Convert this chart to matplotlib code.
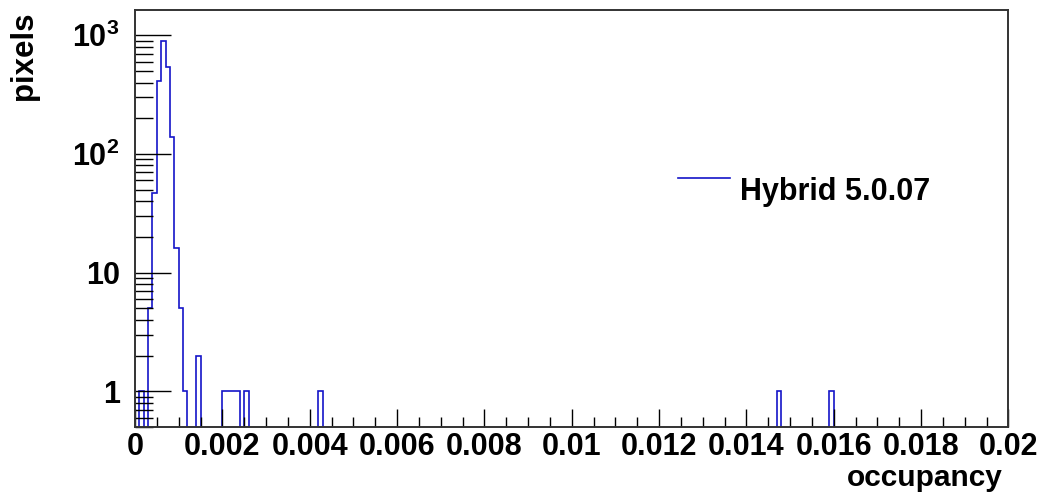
#!/usr/bin/env python3
"""Pixel occupancy histogram (log y), ROOT-like styling."""

import numpy as np
import matplotlib

matplotlib.use("Agg")
import matplotlib.pyplot as plt
from matplotlib.ticker import FixedLocator, FuncFormatter, LogLocator, NullFormatter

# histogram binning: 200 bins from 0 to 0.02
N_BINS = 200
X_MIN = 0.0
X_MAX = 0.02

# non-empty bins (bin index, entries)
filled_bins = [1, 3, 4, 5, 6, 7, 8, 9, 10, 11, 14, 20, 21, 22, 23, 25, 42, 147, 159]
bin_counts = [1, 5, 47, 413, 887, 539, 140, 16, 5, 1, 2, 1, 1, 1, 1, 1, 1, 1, 1]

LEGEND_LABEL = "Hybrid 5.0.07"
X_TITLE = "occupancy"
Y_TITLE = "pixels"

W, H = 1043, 493
LINE_COLOR = "#1414c8"

plt.rcParams.update(
    {
        "font.family": ["Liberation Sans", "DejaVu Sans"],
        "font.weight": "bold",
        "mathtext.fontset": "custom",
        "mathtext.rm": "Liberation Sans:bold",
        "mathtext.bf": "Liberation Sans:bold",
        "mathtext.it": "Liberation Sans:bold",
    }
)


def px_x(x):
    return x / W


def px_y(y):
    return 1 - y / H


edges = np.linspace(X_MIN, X_MAX, N_BINS + 1)
counts = np.zeros(N_BINS)
counts[filled_bins] = bin_counts
# empty bins go below the axis floor, like ROOT does on a log scale
counts = np.where(counts > 0, counts, 1e-3)

fig = plt.figure(figsize=(W / 100, H / 100), dpi=100)
left, right, top, bottom = 135, 1008.5, 9.5, 427
ax = fig.add_axes([px_x(left), px_y(bottom), (right - left) / W, (bottom - top) / H])

ax.stairs(counts, edges, baseline=1e-3, color=LINE_COLOR, linewidth=1.2)

ax.set_yscale("log")
ax.set_xlim(X_MIN, X_MAX)
ax.set_ylim(0.5, 1650)

# x ticks
x_major = np.arange(0, 0.0201, 0.002)
ax.xaxis.set_major_locator(FixedLocator(x_major))
ax.xaxis.set_minor_locator(FixedLocator(np.arange(0, 0.02001, 0.0005)))
ax.xaxis.set_major_formatter(FuncFormatter(lambda v, p: "0" if v == 0 else f"{v:.3f}".rstrip("0")))

# y ticks
ax.yaxis.set_major_locator(FixedLocator([1, 10, 100, 1000]))
ax.yaxis.set_minor_locator(LogLocator(base=10, subs=np.arange(2, 10)))
ax.yaxis.set_minor_formatter(NullFormatter())


def y_fmt(v, pos):
    if v < 100:
        return f"{int(v)}"
    return r"$\mathbf{10^{%d}}$" % int(round(np.log10(v)))


ax.yaxis.set_major_formatter(FuncFormatter(y_fmt))

ax.tick_params(axis="x", which="major", direction="in", length=13, width=1, labelsize=22, pad=3.5, top=False)
ax.tick_params(axis="x", which="minor", direction="in", length=7, width=1, top=False)
ax.tick_params(axis="y", which="major", direction="in", length=26, width=1, labelsize=22, pad=11, right=False)
ax.tick_params(axis="y", which="minor", direction="in", length=13, width=1, right=False)

for s in ax.spines.values():
    s.set_color("#333333")
    s.set_linewidth(1.4)

# legend entry (no frame), drawn the way ROOT placed it
ax.plot([0.622, 0.681], [0.596, 0.596], color=LINE_COLOR, linewidth=1.2, transform=ax.transAxes)
ax.text(0.693, 0.544, LEGEND_LABEL, transform=ax.transAxes, fontsize=22, fontweight="bold", va="baseline")

fig.text(px_x(1003), px_y(485.5), X_TITLE, ha="right", va="baseline", fontsize=21.5, fontweight="bold")
fig.text(px_x(24), px_y(12), Y_TITLE, rotation=90, ha="center", va="top", fontsize=22.5, fontweight="bold")

fig.savefig("out.png", dpi=100, facecolor="white")
